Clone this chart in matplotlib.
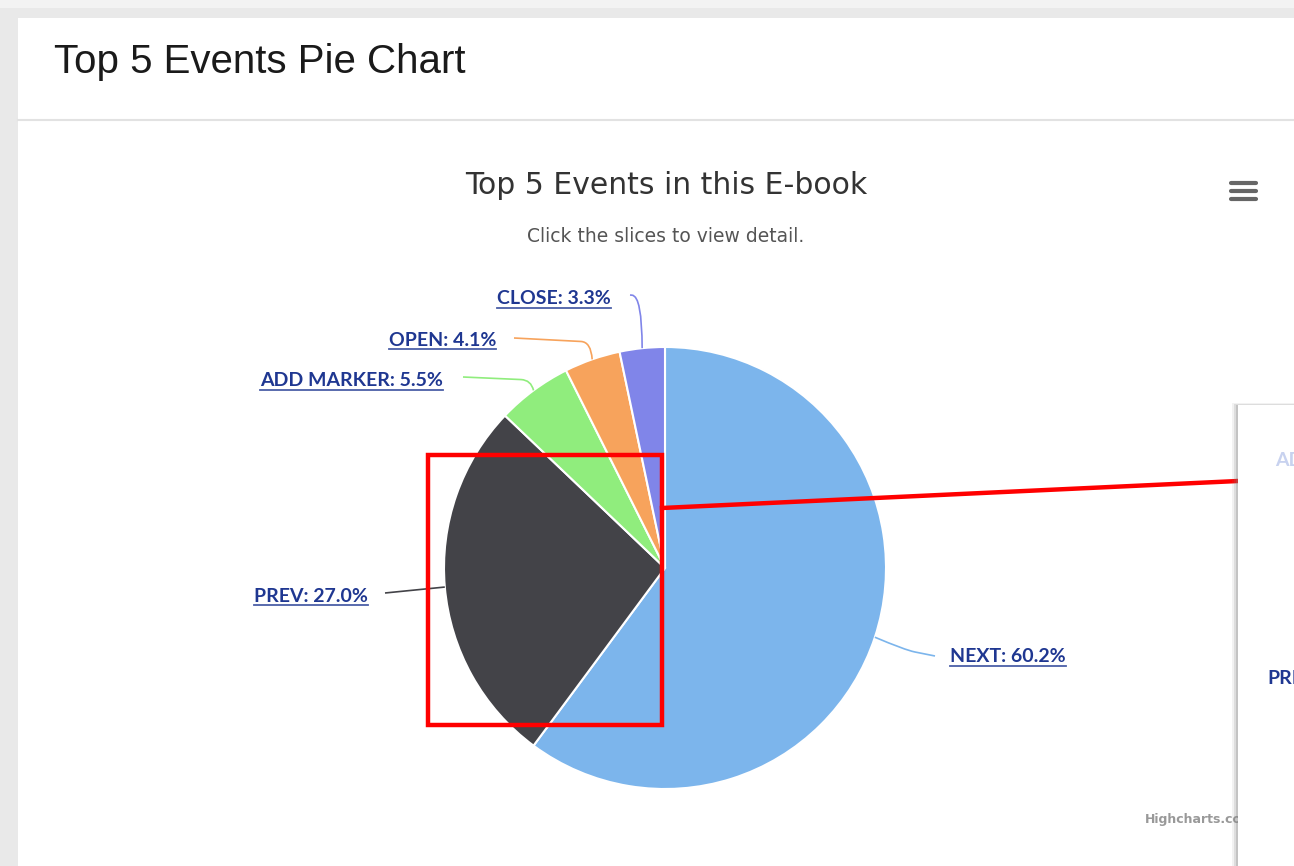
import numpy as np
import matplotlib
matplotlib.use("Agg")
import matplotlib.pyplot as plt
from matplotlib.path import Path
from matplotlib.patches import PathPatch, Rectangle

# ---- data ----
categories = ["NEXT", "PREV", "ADD MARKER", "OPEN", "CLOSE"]
shares = [60.2, 27.0, 5.5, 4.1, 3.3]
colors = ["#7cb5ec", "#434348", "#90ed7d", "#f7a35c", "#8085e9"]

panel_title = "Top 5 Events Pie Chart"
chart_title = "Top 5 Events in this E-book"
chart_subtitle = "Click the slices to view detail."

# ---- layout (pixels) ----
W, H = 1294, 866
cx, cy, R = 665, 568, 221
# label anchor: (x of text edge nearest pie, y centre, side)
label_pos = [(950, 657, "right"), (368, 596, "left"), (443, 381, "left"),
             (496, 340, "left"), (611, 299, "left")]
conn_start = [(935, 656), (385, 593), (463, 377), (514, 338), (630, 295)]
conn_bend = [(905, 650), (415, 590), (531, 380), (591, 342), (642, 296)]

fig = plt.figure(figsize=(W / 100, H / 100), dpi=100)
fig.patch.set_facecolor("#e9e9e9")

bg = fig.add_axes([0, 0, 1, 1], zorder=0)
bg.set_xlim(0, W)
bg.set_ylim(H, 0)
bg.axis("off")
bg.add_patch(Rectangle((0, 0), W, 8, facecolor="#f3f3f3", edgecolor="none"))
bg.add_patch(Rectangle((18, 18), W - 18, H - 18, facecolor="white", edgecolor="none"))
bg.plot([18, W], [120, 120], color="#e2e2e2", lw=1.5)
bg.text(54, 62, panel_title, fontsize=29, family="Liberation Sans",
        color="#1a1a1a", va="center", ha="left")
bg.text(666, 185, chart_title, fontsize=21.5, family="DejaVu Sans",
        color="#333333", va="center", ha="center")
bg.text(666, 237, chart_subtitle, fontsize=13.5, family="DejaVu Sans",
        color="#555555", va="center", ha="center")
# hamburger menu
for yy in (183, 191, 199):
    bg.plot([1231, 1256], [yy, yy], color="#666666", lw=3, solid_capstyle="round")
bg.text(1145, 820, "Highcharts.com", fontsize=9, family="DejaVu Sans",
        color="#999999", va="center", ha="left", fontweight="bold")

# ---- pie ----
pax = fig.add_axes([(cx - R) / W, (H - cy - R) / H, 2 * R / W, 2 * R / H], zorder=1)
wedges, _ = pax.pie(shares, colors=colors, startangle=90, counterclock=False,
                    wedgeprops=dict(edgecolor="white", linewidth=1.5))
pax.set_xlim(-1, 1)
pax.set_ylim(-1, 1)
pax.axis("off")

# ---- overlay ----
ov = fig.add_axes([0, 0, 1, 1], zorder=2)
ov.set_xlim(0, W)
ov.set_ylim(H, 0)
ov.axis("off")
ov.patch.set_alpha(0)

to_ov = pax.transData + ov.transData.inverted()
label_color = "#1f3791"
texts = []
for i, w in enumerate(wedges):
    mid = np.deg2rad((w.theta1 + w.theta2) / 2)
    ex, ey = to_ov.transform((np.cos(mid), np.sin(mid)))
    p0 = np.array(conn_start[i], float)
    b = np.array(conn_bend[i], float)
    d = np.linalg.norm(p0 - b)
    pre = b + (p0 - b) * min(1.0, 10 / d)
    path = Path([p0, pre, b, (ex, ey)],
                [Path.MOVETO, Path.LINETO, Path.CURVE3, Path.CURVE3])
    ov.add_patch(PathPatch(path, facecolor="none", edgecolor=colors[i], lw=1.2))
    lx, ly, side = label_pos[i]
    t = ov.text(lx, ly, f"{categories[i]}: {shares[i]:.1f}%", fontsize=14,
                family="Lato", fontweight="bold", color=label_color,
                ha="left" if side == "right" else "right", va="center")
    texts.append(t)

fig.canvas.draw()
inv = ov.transData.inverted()
for t in texts:
    bb = t.get_window_extent()
    (x0, y0), (x1, y1) = inv.transform([(bb.x0, bb.y0), (bb.x1, bb.y1)])
    ov.plot([x0, x1], [y0 + 0.5, y0 + 0.5], color=label_color, lw=1.3, alpha=0.8)

# red highlight annotation
ov.add_patch(Rectangle((428, 455), 234, 270, facecolor="none", edgecolor="#ff0000", lw=3.2, zorder=5))
ov.plot([662, 1238], [508, 481], color="#ff0000", lw=3.2, zorder=5)

# overlay panel on right
for k, a in enumerate([0.10, 0.18, 0.28]):
    ov.add_patch(Rectangle((1232 + 2 * k, 405 - 2 + k), W, H, facecolor="#808080",
                           alpha=a, edgecolor="none", zorder=6))
ov.add_patch(Rectangle((1238, 405), W - 1238, H - 405, facecolor="white", edgecolor="none", zorder=7))
ov.text(1275, 460, "AD", fontsize=14, family="Lato", fontweight="bold",
        color="#c8d2ef", va="center", ha="left", zorder=8, clip_on=True)
ov.text(1267, 678, "PRI", fontsize=14, family="Lato", fontweight="bold",
        color=label_color, va="center", ha="left", zorder=8, clip_on=True)

fig.savefig("out.png", dpi=100)
